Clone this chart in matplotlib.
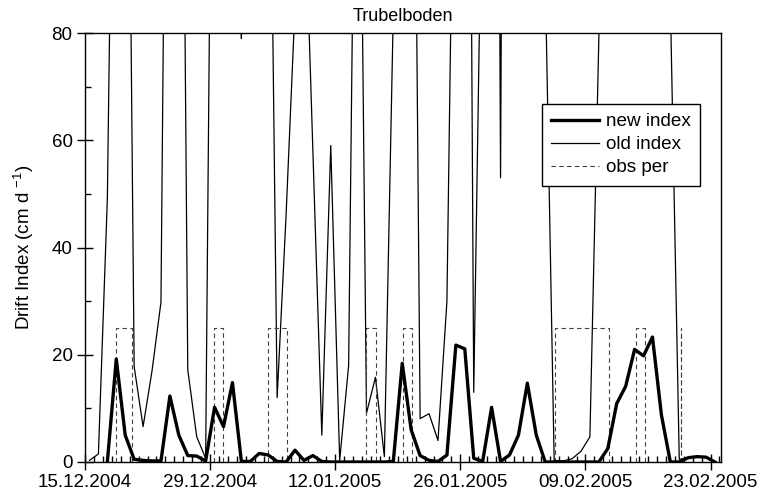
import numpy as np
import pandas as pd
import matplotlib
matplotlib.use("Agg")
import matplotlib.pyplot as plt
import matplotlib.dates as mdates

plt.rcParams['font.family'] = ['Liberation Sans', 'DejaVu Sans']
plt.rcParams['mathtext.default'] = 'regular'

# daily values, one per day at noon, from 15.12.2004
days = pd.date_range("2004-12-15 12:00", periods=71, freq="D")

new_index = [np.nan, np.nan, 0, 19.2, 5.0, 0.5, 0.3, 0.2, 0.2, 12.3,
             5.0, 1.2, 1.1, 0.2, 10.2, 6.6, 14.8, 0.1, 0.1, 1.6,
             1.3, 0.1, 0, 2.2, 0.3, 1.2, 0.1, 0, 0, 0,
             0, 0, 0, 0, 0.1, 18.4, 6.0, 1.2, 0.3, 0.1,
             1.3, 21.8, 21.1, 0.7, 0.1, 10.2, 0.1, 1.3, 5.0, 14.7,
             5.0, 0, 0, 0, 0, 0, 0, 0, 2.5, 10.9,
             14.1, 21.0, 19.8, 23.3, 8.8, 0, 0, 0.8, 1.0, 0.9,
             0]

old_index = [0.3, 1.5, 49, 175, 196, 17.8, 6.6, 17, 29.8, 219,
             222, 17.2, 4.7, 0.7, 192, 200, 200, 79, 200, 200,
             153, 12, 46, 85, 111, 58, 5, 59, 0.3, 18,
             170, 9.1, 15.8, 1.0, 84, 200, 200, 8.1, 9.0, 4.0,
             30, 150, 300, 13, 120, 400, 53, 400, 200, 200,
             200, 91, 0.3, 0.2, 0.6, 2.0, 4.7, 79, 200, 200,
             200, 200, 200, 200, 200, 86, 0.5, 0.8, 1.0, 0.8,
             0]

# observation periods
obs_start = ["2004-12-18 11:00", "2004-12-29 11:00", "2005-01-04 12:30",
             "2005-01-15 11:00", "2005-01-19 14:00", "2005-02-05 15:00",
             "2005-02-14 15:30", "2005-02-19 15:30"]
obs_end = ["2004-12-20 05:30", "2004-12-30 11:00", "2005-01-06 14:00",
           "2005-01-16 14:00", "2005-01-20 15:00", "2005-02-11 14:30",
           "2005-02-15 17:00", "2005-02-19 15:30"]
obs_level = 25

obs_x = []
obs_y = []
for s, e in zip(pd.to_datetime(obs_start), pd.to_datetime(obs_end)):
    obs_x += [s, s, e, e, e]
    obs_y += [0, obs_level, obs_level, 0, np.nan]

tick_dates = pd.to_datetime(["2004-12-15", "2004-12-29", "2005-01-12",
                             "2005-01-26", "2005-02-09", "2005-02-23"])

fig = plt.figure(figsize=(7.61, 5.0), dpi=100)
ax = fig.add_axes([0.1117, 0.076, 0.8357, 0.858])

l_old, = ax.plot(days, old_index, color='k', lw=0.9, label='old index')
l_obs, = ax.plot(obs_x, obs_y, color='0.25', lw=0.8, ls=(0, (4, 3)), label='obs per')
l_new, = ax.plot(days, new_index, color='k', lw=2.4, label='new index')

ax.set_xlim(pd.Timestamp("2004-12-15"), pd.Timestamp("2005-02-24 04:00"))
ax.set_ylim(0, 80)

ax.set_xticks(tick_dates)
ax.xaxis.set_major_formatter(mdates.DateFormatter('%d.%m.%Y'))
ax.xaxis.set_minor_locator(mdates.DayLocator())
ax.set_yticks([0, 20, 40, 60, 80])
ax.set_yticks([10, 30, 50, 70], minor=True)

ax.tick_params(which='major', direction='inout', length=11, width=1, labelsize=13.5)
ax.tick_params(which='minor', direction='in', length=4, width=1)
ax.tick_params(axis='x', which='major', pad=3)
for sp in ax.spines.values():
    sp.set_linewidth(1)

ax.set_title('Trubelboden', fontsize=13, pad=9)
ax.set_ylabel('Drift Index (cm d $^{-1}$)', fontsize=13.5, labelpad=11)

leg = ax.legend(handles=[l_new, l_old, l_obs], loc='upper left',
                bbox_to_anchor=(0.7186, 0.835), fontsize=13.6, fancybox=False,
                framealpha=1, edgecolor='k', handlelength=2.5, handletextpad=0.37,
                borderpad=0.5, labelspacing=0.3, borderaxespad=0)
leg.get_frame().set_linewidth(1)

fig.savefig('out.png', dpi=100)
